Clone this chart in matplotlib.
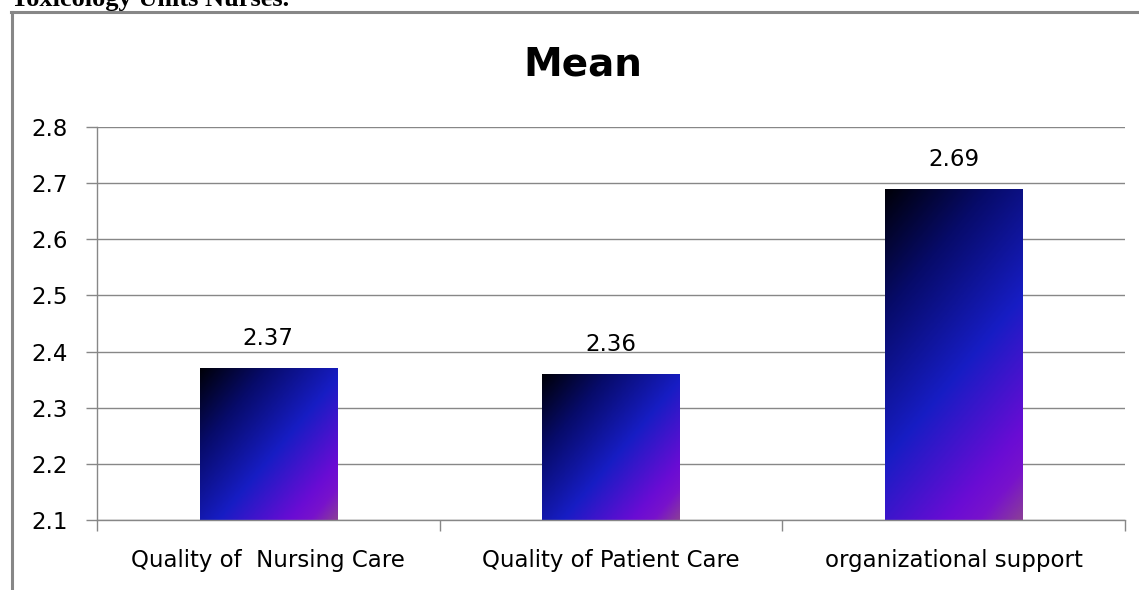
import numpy as np
import matplotlib.pyplot as plt
from matplotlib.colors import LinearSegmentedColormap
from matplotlib.lines import Line2D

# data
categories = ["Quality of  Nursing Care", "Quality of Patient Care", "organizational support"]
means = [2.37, 2.36, 2.69]
value_labels = ["2.37", "2.36", "2.69"]
yticks = [2.1, 2.2, 2.3, 2.4, 2.5, 2.6, 2.7, 2.8]

W, H = 1139, 590
fig = plt.figure(figsize=(W / 100, H / 100), dpi=100)
fig.subplots_adjust(left=97 / W, right=1125 / W, bottom=1 - 520 / H, top=1 - 127 / H)
ax = fig.add_subplot(111)

font = ["DejaVu Sans"]
grey = "#878787"

x = np.arange(len(categories))
bars = ax.bar(x, means, width=0.4, facecolor="none", edgecolor="none", zorder=3)
ax.set_xlim(-0.5, len(categories) - 0.5)
ax.set_ylim(2.1, 2.8)
ax.set_yticks(yticks)
ax.set_yticklabels([f"{v:.1f}" for v in yticks], fontsize=16.5, family=font)
ax.set_xticks(x)
ax.set_xticklabels(categories, fontsize=16.5, family=font)
ax.set_xticks(np.arange(-0.5, len(categories)), minor=True)

ax.grid(axis="y", color=grey, lw=1.0)
ax.set_axisbelow(True)
for s in ["top", "right"]:
    ax.spines[s].set_visible(False)
for s in ["left", "bottom"]:
    ax.spines[s].set_color(grey)
    ax.spines[s].set_linewidth(1.0)
ax.tick_params(axis="y", length=8, color=grey, width=1.0, pad=13)
ax.tick_params(axis="x", which="major", length=0, pad=21)
ax.tick_params(axis="x", which="minor", length=8, color=grey, width=1.0, direction="out")

# diagonal gradient fill: black -> blue -> purple
cmap = LinearSegmentedColormap.from_list("excel", [
    (0.0, "#000008"), (0.25, "#070b6a"), (0.55, "#171dc4"),
    (0.82, "#6a0cd4"), (0.9, "#7812cc"), (1.0, "#8a3e98")])
fig.canvas.draw()
ang = np.deg2rad(40)
for b in bars:
    x0, w, top = b.get_x(), b.get_width(), b.get_height()
    bot = ax.get_ylim()[0]
    (px0, py0), (px1, py1) = ax.transData.transform([(x0, bot), (x0 + w, top)])
    pw, ph = abs(px1 - px0), abs(py1 - py0)
    u = np.linspace(0, 1, 120)[None, :] * pw
    v = np.linspace(0, 1, 240)[:, None] * ph
    t = u * np.cos(ang) + v * np.sin(ang)
    t = t / t.max()
    im = ax.imshow(t, cmap=cmap, extent=(x0, x0 + w, bot, top), origin="upper",
                   aspect="auto", zorder=2, interpolation="bilinear")
    im.set_clip_path(b)

for xi, m, lab in zip(x, means, value_labels):
    ax.annotate(lab, (xi, m), xytext=(0, 13), textcoords="offset points",
                ha="center", va="bottom", fontsize=16.5, family=font)

ax.set_xlim(-0.5, len(categories) - 0.5)
ax.set_ylim(2.1, 2.8)

fig.text(583 / W, 1 - 76 / H, "Mean", ha="center", va="baseline",
         fontsize=28, fontweight="bold", family=font)

# cut-off caption from the page above the chart, and the chart frame
fig.text(11 / W, 1 - 6 / H, "Toxicology Units Nurses.", ha="left", va="baseline",
         fontsize=19, fontweight="bold", family="Liberation Serif")
fig.add_artist(Line2D([12 / W, 12 / W], [0, 1 - 12 / H], transform=fig.transFigure,
                      color=grey, lw=2.2))
fig.add_artist(Line2D([11 / W, 1], [1 - 12 / H, 1 - 12 / H], transform=fig.transFigure,
                      color=grey, lw=2.2))

fig.savefig("out.png", dpi=100)
